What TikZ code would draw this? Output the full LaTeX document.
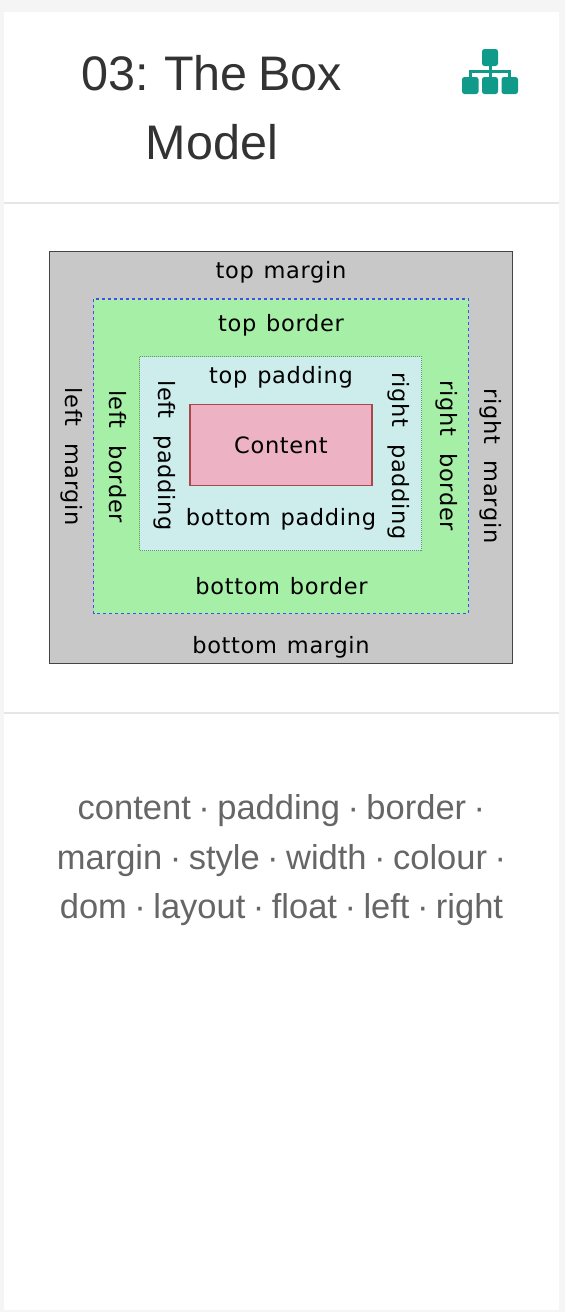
\documentclass[tikz,border=0pt]{standalone}
\usepackage{fontspec}
\setmainfont{Liberation Sans}
\newfontfamily\dv[LetterSpace=3]{DejaVu Sans}
\newfontfamily\ttlfont[WordSpace=0.6]{Liberation Sans}
\newfontfamily\tagfont[WordSpace=0.78]{Liberation Sans}
\definecolor{pagebg}{HTML}{F5F5F5}
\definecolor{rulec}{HTML}{E6E6E6}
\definecolor{titlec}{HTML}{333333}
\definecolor{tagc}{HTML}{666666}
\definecolor{teal}{HTML}{0F9A8A}
\definecolor{marginc}{HTML}{C8C8C8}
\definecolor{borderc}{HTML}{A6EFA6}
\definecolor{paddingc}{HTML}{CDECEC}
\definecolor{contentc}{HTML}{EDB2C4}
\definecolor{mline}{HTML}{444444}
\definecolor{bline}{HTML}{4A4AF5}
\definecolor{pline}{HTML}{5F9A5F}
\definecolor{cline}{HTML}{A84848}
\newcommand{\hg}{\ \hspace{2pt}}
\newcommand{\vg}{\ \hspace{9pt}}
\tikzset{
  x=1pt,y=-1pt,
  lbl/.style={font=\dv\fontsize{22.5}{24}\selectfont,text=black,inner sep=0pt,anchor=center},
  vlbl/.style={font=\dv\fontsize{22.5}{24}\selectfont,text=black,inner sep=0pt,anchor=center,rotate=-90},
  ttl/.style={font=\ttlfont\fontsize{48.5}{49}\selectfont,text=titlec,inner sep=0pt,anchor=base},
  tag/.style={font=\tagfont\fontsize{34.5}{34.5}\selectfont,text=tagc,inner sep=0pt,anchor=base},
  ico/.style={fill=teal,rounded corners=2.5pt,draw=none},
  iline/.style={draw=teal,line width=3pt},
}
\begin{document}
\begin{tikzpicture}
\useasboundingbox (0,0) rectangle (565,1312);
\fill[pagebg] (0,0) rectangle (565,1312);
\fill[white] (4,12) rectangle (559,1310);
\draw[rulec,line width=2pt] (4,202.5) -- (559,202.5);
\draw[rulec,line width=2pt] (4,712.5) -- (559,712.5);
% title
\node[ttl] (t1) at (212,90) {03: The Box};
\node[ttl] (t2) at (212,159) {Model};
% icon
\draw[iline] (490,62) -- (490,80);
\draw[iline] (470.5,80) -- (470.5,71.5) -- (509.5,71.5) -- (509.5,80);
\fill[ico] (482,49) rectangle (498,66);
\fill[ico] (462,77) rectangle (478.5,94);
\fill[ico] (482,77) rectangle (498,94);
\fill[ico] (501.5,77) rectangle (518,94);
% boxes
\filldraw[fill=marginc,draw=mline,line width=1.4pt] (49.5,251.5) rectangle (512.5,663.5);
\filldraw[fill=borderc,draw=bline,line width=1.3pt,dash pattern=on 3pt off 3pt] (93.5,299) rectangle (468.5,613.5);
\filldraw[fill=paddingc,draw=pline,line width=1.2pt,dash pattern=on 1pt off 1pt] (139.5,356.5) rectangle (421.5,550.5);
\filldraw[fill=contentc,draw=cline,line width=1.3pt] (190,404.5) rectangle (372,485.5);
% labels
\node[lbl] (a1) at (281,272) {top\hg margin};
\node[lbl] (a2) at (281,325) {top\hg border};
\node[lbl] (a3) at (281,377) {top\hg padding};
\node[lbl] (c) at (281,445) {Content};
\node[lbl] (b3) at (281,519) {bottom\hg padding};
\node[lbl] (b2) at (281.5,586) {bottom\hg border};
\node[lbl] (b1) at (281,647) {bottom\hg margin};
\node[vlbl] (l1) at (72,457) {left\vg margin};
\node[vlbl] (l2) at (118,456.5) {left\vg border};
\node[vlbl] (l3) at (165,455.5) {left\vg padding};
\node[vlbl] (r3) at (399,456) {right\vg padding};
\node[vlbl] (r2) at (447,456) {right\vg border};
\node[vlbl] (r1) at (491,466) {right\vg margin};
% tags
\node[tag] (g1) at (281.5,819) {content · padding · border ·};
\node[tag] (g2) at (281.5,869) {margin · style · width · colour ·};
\node[tag] (g3) at (281.5,918) {dom · layout · float · left · right};
\end{tikzpicture}
\end{document}
